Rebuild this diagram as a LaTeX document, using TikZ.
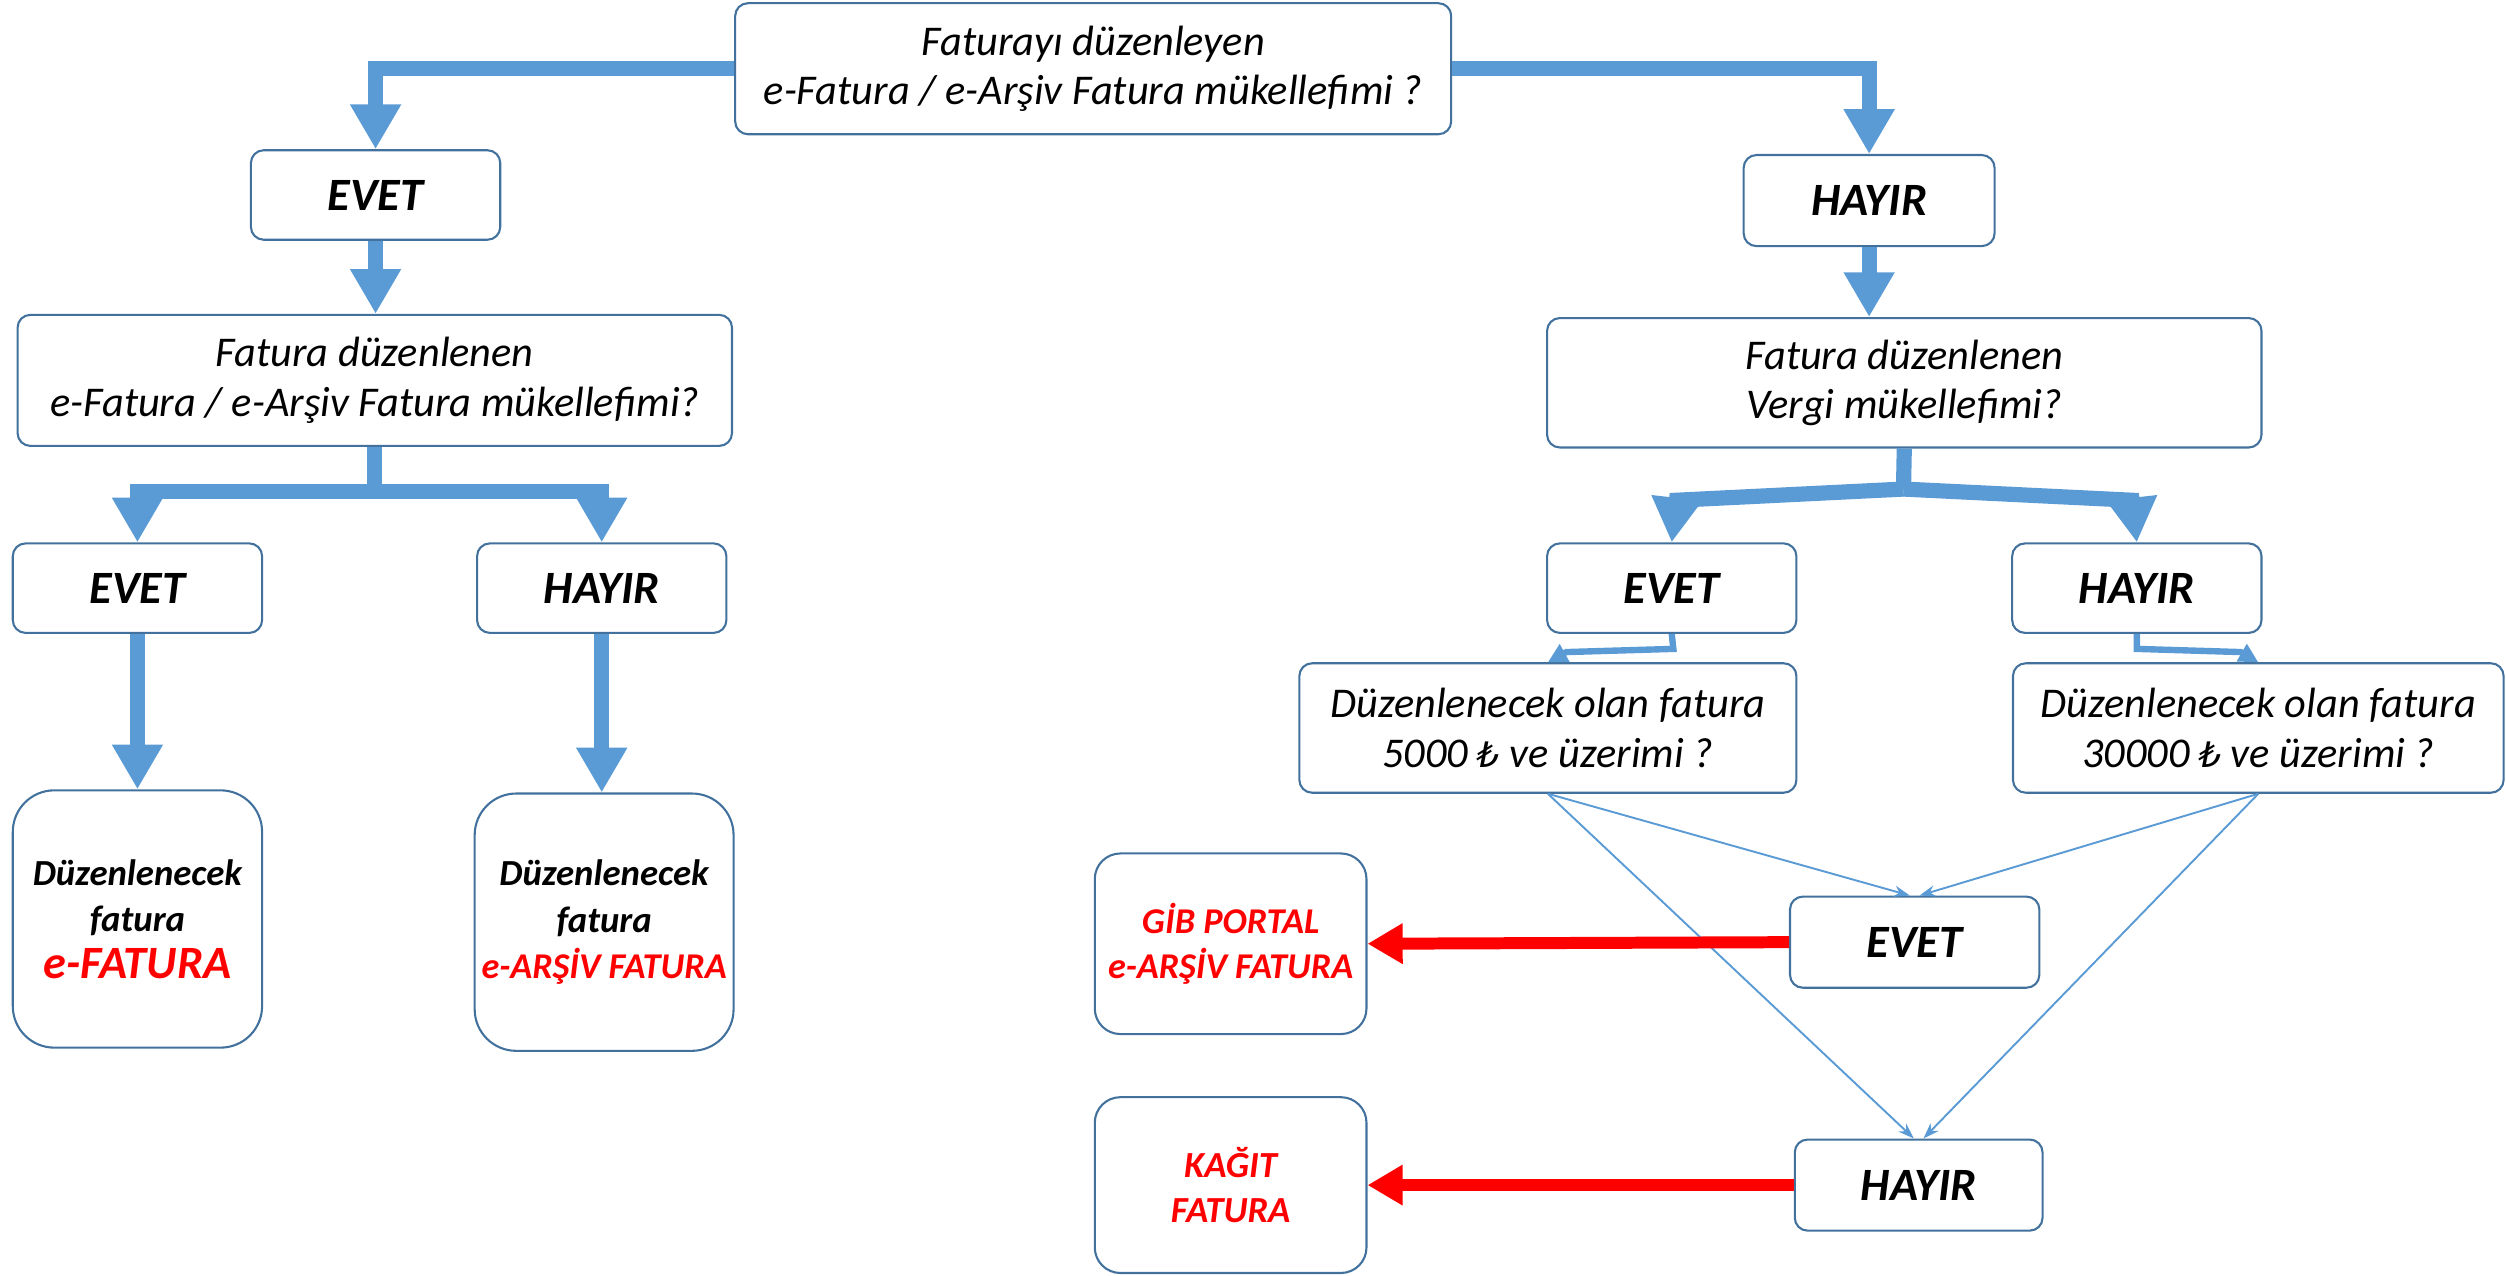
\documentclass[tikz,border=0pt]{standalone}
\usepackage{fontspec}
\setmainfont{Carlito}
\newfontfamily\lirafont{DejaVu Sans}
\usetikzlibrary{arrows.meta}
\definecolor{boxblue}{HTML}{41719C}
\definecolor{arrowblue}{HTML}{5B9BD5}
\definecolor{redtxt}{HTML}{FF0000}
\newcommand{\lirasign}{{\lirafont\fontsize{22}{31}\selectfont ₺}}
\begin{document}
\begin{tikzpicture}[x=1pt,y=-1pt,
  box/.style={draw=boxblue, line width=1.3pt, rounded corners=8pt, fill=white, align=center, inner sep=0pt},
  qbox/.style={box, font=\fontsize{26.5}{31}\selectfont\itshape},
  abox/.style={box, minimum width=156pt, minimum height=56pt, font=\fontsize{29}{33}\selectfont\bfseries\itshape},
  rbox/.style={box, rounded corners=26pt, minimum width=158pt, minimum height=161pt, font=\fontsize{23}{29}\selectfont\bfseries\itshape},
  gbox/.style={box, rounded corners=16pt, minimum width=170pt, font=\fontsize{22.7}{28}\selectfont\bfseries\itshape, text=redtxt},
  bigarrow/.style={draw=arrowblue, line width=9.5pt, line join=miter, -{Triangle[length=28pt,width=30pt]}},
  midarrow/.style={draw=arrowblue, line width=4pt, line join=miter, -{Triangle[length=12pt,width=12pt]}},
  thinarrow/.style={draw=arrowblue, line width=1.2pt, -{Stealth[length=10pt,width=7pt]}},
  redarrow/.style={draw=redtxt, line width=7.5pt, -{Triangle[length=22pt,width=24pt]}}]
\useasboundingbox (0,0) rectangle (1568,798);

% nodes
\node[qbox, minimum width=448pt, minimum height=82pt] (top) at (684,43) {Faturayı düzenleyen\\e-Fatura / e-Arşiv Fatura mükellefimi ?};
\node[abox] (evL) at (235,122) {EVET};
\node[qbox, minimum width=447pt, minimum height=82pt] (qL) at (234.5,238) {Fatura düzenlenen\\e-Fatura / e-Arşiv Fatura mükellefimi?};
\node[abox] (evLL) at (86,368) {EVET};
\node[abox] (hyLL) at (376.5,368) {HAYIR};
\node[rbox, minimum width=156pt] (resL) at (86,575) {Düzenlenecek\\fatura\\{\color{redtxt}\fontsize{29}{32}\selectfont e-FATURA}};
\node[rbox, minimum width=162pt] (resR) at (378,577) {Düzenlenecek\\fatura\\{\color{redtxt}\fontsize{22.7}{28}\selectfont e-ARŞİV FATURA}};

\node[abox, minimum width=157pt, minimum height=57pt] (hyR) at (1169.5,125.5) {HAYIR};
\node[qbox, minimum width=447pt, minimum height=81pt] (qR) at (1191.5,239.5) {Fatura düzenlenen\\Vergi mükellefimi?};
\node[abox] (evR) at (1046,368) {EVET};
\node[abox] (hyR2) at (1337,368) {HAYIR};
\node[qbox, minimum width=311pt, minimum height=81pt] (q5) at (968.5,455.5) {Düzenlenecek olan fatura\\5000 \lirasign{} ve üzerimi ?};
\node[qbox, minimum width=307pt, minimum height=81pt] (q30) at (1413,455.5) {Düzenlenecek olan fatura\\30000 \lirasign{} ve üzerimi ?};
\node[abox, minimum height=57pt] (ev3) at (1198,589.5) {EVET};
\node[abox, minimum width=155pt, minimum height=57pt] (hy3) at (1200.5,741.5) {HAYIR};
\node[gbox, minimum height=113pt] (gib) at (770,590.5) {GİB PORTAL\\e-ARŞİV FATURA};
\node[gbox, minimum height=110pt, font=\fontsize{23}{28}\selectfont\bfseries\itshape] (kag) at (770,741.5) {KAĞIT\\FATURA};

% thick blue connectors
\draw[bigarrow] (top.west) -| (evL.north);
\draw[bigarrow] (top.east) -| (hyR.north);
\draw[bigarrow] (evL.south) -- (evL.south |- qL.north);
\draw[bigarrow] (qL.south) -- ++(0,28) -| (evLL.north);
\draw[bigarrow] (qL.south) -- ++(0,28) -| (hyLL.north);
\draw[bigarrow] (evLL.south) -- (resL.north);
\draw[bigarrow] (hyLL.south) -- (hyLL.south |- resR.north);
\draw[bigarrow] (hyR.south) -- (hyR.south |- qR.north);
\coordinate (split) at (1191,306);
\draw[draw=arrowblue, line width=9.5pt] (qR.south) -- (split);
\draw[bigarrow] (split) -- (1049,313) -- (evR.north);
\draw[bigarrow] (split) -- (1334,313) -- (hyR2.north);

% medium connectors
\draw[midarrow] (evR.south) -- (1047,406) -- (980,408) -- (q5.north);
\draw[midarrow] (hyR2.south) -- (1337,406) -- (1402,408) -- (q30.north);

% thin connectors
\draw[thinarrow] (q5.south) -- ([xshift=-3pt]ev3.north);
\draw[thinarrow] (q30.south) -- ([xshift=3pt]ev3.north);
\draw[thinarrow] (q5.south) -- ([xshift=-3pt]hy3.north);
\draw[thinarrow] (q30.south) -- ([xshift=3pt]hy3.north);

% red connectors
\draw[redarrow] (ev3.west) -- (gib.east);
\draw[redarrow] (hy3.west) -- (kag.east);
\end{tikzpicture}
\end{document}
